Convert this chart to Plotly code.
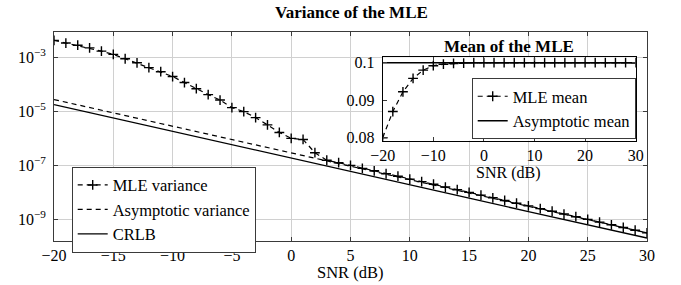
import plotly.graph_objects as go

# ---------------- data ----------------
snr_db = list(range(-20, 31))
mle_variance = [
    4.27e-3, 3.39e-3, 2.82e-3, 2.24e-3, 1.70e-3, 1.29e-3, 8.91e-4, 6.31e-4, 4.17e-4, 2.95e-4,
    1.95e-4, 1.17e-4, 6.92e-5, 4.17e-5, 2.63e-5, 1.38e-5, 9.77e-6, 5.89e-6, 3.16e-6, 1.66e-6,
    1.00e-6, 9.12e-7, 2.95e-7, 1.55e-7, 1.26e-7, 1.00e-7, 7.76e-8, 6.31e-8, 4.90e-8, 3.98e-8,
    3.09e-8, 2.51e-8, 2.00e-8, 1.58e-8, 1.26e-8, 1.00e-8, 7.94e-9, 6.31e-9, 5.01e-9, 3.98e-9,
    3.16e-9, 2.51e-9, 2.00e-9, 1.58e-9, 1.26e-9, 1.00e-9, 7.94e-10, 6.31e-10, 5.01e-10, 3.98e-10,
    3.16e-10,
]
snr_db_coarse = [-20, -15, -10, -5, 0, 5, 10, 15, 20, 25, 30]
asymptotic_variance = [2.75e-5, 8.91e-6, 2.82e-6, 9.12e-7, 2.88e-7, 9.33e-8, 2.95e-8,
                       9.55e-9, 3.02e-9, 9.77e-10, 3.16e-10]
crlb = [1.78e-5, 5.75e-6, 1.82e-6, 5.89e-7, 1.86e-7, 6.03e-8, 1.91e-8,
        6.17e-9, 1.95e-9, 6.31e-10, 2.04e-10]

snr_db_mean = list(range(-20, 31, 2))
mle_mean = [0.0799, 0.0869, 0.0922, 0.0958, 0.0980, 0.0992, 0.0996, 0.0998, 0.0999, 0.1,
            0.1, 0.1, 0.1, 0.1, 0.1, 0.1, 0.1, 0.1, 0.1, 0.1,
            0.1, 0.1, 0.1, 0.1, 0.1, 0.1]
snr_db_asym_mean = [-20, 30]
asymptotic_mean = [0.1, 0.1]

x_ticks_main = [-20, -15, -10, -5, 0, 5, 10, 15, 20, 25, 30]
y_ticks_main = [1e-9, 1e-7, 1e-5, 1e-3]
y_ticktext_main = ["10<sup>−9</sup>", "10<sup>−7</sup>", "10<sup>−5</sup>", "10<sup>−3</sup>"]
x_ticks_inset = [-20, -10, 0, 10, 20, 30]
y_ticks_inset = [0.08, 0.09, 0.1]
y_ticktext_inset = ["0.08", "0.09", "0.1"]

# ---------------- style ----------------
FONT = "Liberation Serif"
BLACK = "#000000"
AXIS = "#3a3a3a"
GRID = "#d0d0d0"
DASH = "5px,4px"
TICKFONT = dict(family=FONT, size=16, color=BLACK)

fig = go.Figure()

fig.add_trace(go.Scatter(
    x=snr_db, y=mle_variance, name="MLE variance", mode="lines+markers",
    line=dict(color=BLACK, width=1.2, dash=DASH),
    marker=dict(symbol="cross-thin", size=7, line=dict(color=BLACK, width=1.4)),
    xaxis="x", yaxis="y", legend="legend"))
fig.add_trace(go.Scatter(
    x=snr_db_coarse, y=asymptotic_variance, name="Asymptotic variance", mode="lines",
    line=dict(color=BLACK, width=1.2, dash=DASH), xaxis="x", yaxis="y", legend="legend"))
fig.add_trace(go.Scatter(
    x=snr_db_coarse, y=crlb, name="CRLB", mode="lines",
    line=dict(color=BLACK, width=1.4), xaxis="x", yaxis="y", legend="legend"))

fig.add_trace(go.Scatter(
    x=snr_db_mean, y=mle_mean, name="MLE mean", mode="lines+markers",
    line=dict(color=BLACK, width=1.2, dash=DASH),
    marker=dict(symbol="cross-thin", size=7, line=dict(color=BLACK, width=1.4)),
    xaxis="x2", yaxis="y2", legend="legend2"))
fig.add_trace(go.Scatter(
    x=snr_db_asym_mean, y=asymptotic_mean, name="Asymptotic mean", mode="lines",
    line=dict(color=BLACK, width=1.4), xaxis="x2", yaxis="y2", legend="legend2"))

L, R, T, B = 54, 34, 32, 44
W, H = 681, 285
pw, ph = W - L - R, H - T - B


def px_x(x):
    return (x - L) / pw


def px_y(y):
    return (H - B - y) / ph


fig.update_layout(
    width=W, height=H,
    margin=dict(l=L, r=R, t=T, b=B, autoexpand=False),
    paper_bgcolor="white", plot_bgcolor="white",
    font=dict(family=FONT, size=16, color=BLACK),
    xaxis=dict(domain=[0, 1], range=[-20, 30], tickvals=x_ticks_main,
               showgrid=True, gridcolor=GRID, gridwidth=1, zeroline=False,
               showline=True, linecolor=AXIS, linewidth=1, mirror="ticks",
               ticks="inside", ticklen=4, tickcolor=AXIS, tickfont=TICKFONT),
    yaxis=dict(domain=[0, 1], type="log", range=[-9.8, -2.06], tickvals=y_ticks_main,
               ticktext=y_ticktext_main,
               showgrid=True, gridcolor=GRID, gridwidth=1, zeroline=False,
               showline=True, linecolor=AXIS, linewidth=1, mirror="ticks",
               ticks="inside", ticklen=4, tickcolor=AXIS, tickfont=TICKFONT,
               ticklabelstandoff=4),
    xaxis2=dict(domain=[px_x(382.7), px_x(635.7)], anchor="y2", range=[-20, 30],
                tickvals=x_ticks_inset, showgrid=False, zeroline=False,
                showline=True, linecolor=BLACK, linewidth=1, mirror="ticks",
                ticks="inside", ticklen=4, tickcolor=AXIS, tickfont=TICKFONT),
    yaxis2=dict(domain=[px_y(140.7), px_y(57.3)], anchor="x2", range=[0.07909, 0.10145],
                tickvals=y_ticks_inset, ticktext=y_ticktext_inset,
                showgrid=False, zeroline=False,
                showline=True, linecolor=BLACK, linewidth=1, mirror="ticks",
                ticks="inside", ticklen=4, tickcolor=AXIS, tickfont=TICKFONT,
                ticklabelstandoff=4),
    legend=dict(x=px_x(71.7), y=px_y(166.7), xanchor="left", yanchor="top",
                bgcolor="white", bordercolor=AXIS, borderwidth=1,
                font=dict(family=FONT, size=16.5, color=BLACK), tracegroupgap=0,
                itemwidth=30),
    legend2=dict(x=px_x(635.7), y=px_y(139), xanchor="right", yanchor="bottom",
                 bgcolor="white", bordercolor=AXIS, borderwidth=1,
                 font=dict(family=FONT, size=16.5, color=BLACK), tracegroupgap=0,
                 itemwidth=30),
    showlegend=True,
    annotations=[
        dict(text="<b>Variance of the MLE</b>", xref="paper", yref="paper",
             x=px_x(351), y=px_y(12.7), xanchor="center", yanchor="middle",
             showarrow=False, font=dict(family=FONT, size=17, color=BLACK)),
        dict(text="<b>Mean of the MLE</b>", xref="paper", yref="paper",
             x=px_x(509), y=px_y(46.7),
             xanchor="center", yanchor="middle",
             showarrow=False, font=dict(family=FONT, size=17, color=BLACK)),
        dict(text="SNR (dB)", xref="paper", yref="paper",
             x=px_x(350), y=px_y(272.5), xanchor="center", yanchor="middle",
             showarrow=False, font=dict(family=FONT, size=16.5, color=BLACK)),
        dict(text="SNR (dB)", xref="paper", yref="paper",
             x=px_x(508), y=px_y(173.5),
             xanchor="center", yanchor="middle",
             showarrow=False, font=dict(family=FONT, size=16, color=BLACK)),
    ],
)

fig.write_html("out.html", config={"displayModeBar": False},
               post_script="document.body.style.margin='0px';")
